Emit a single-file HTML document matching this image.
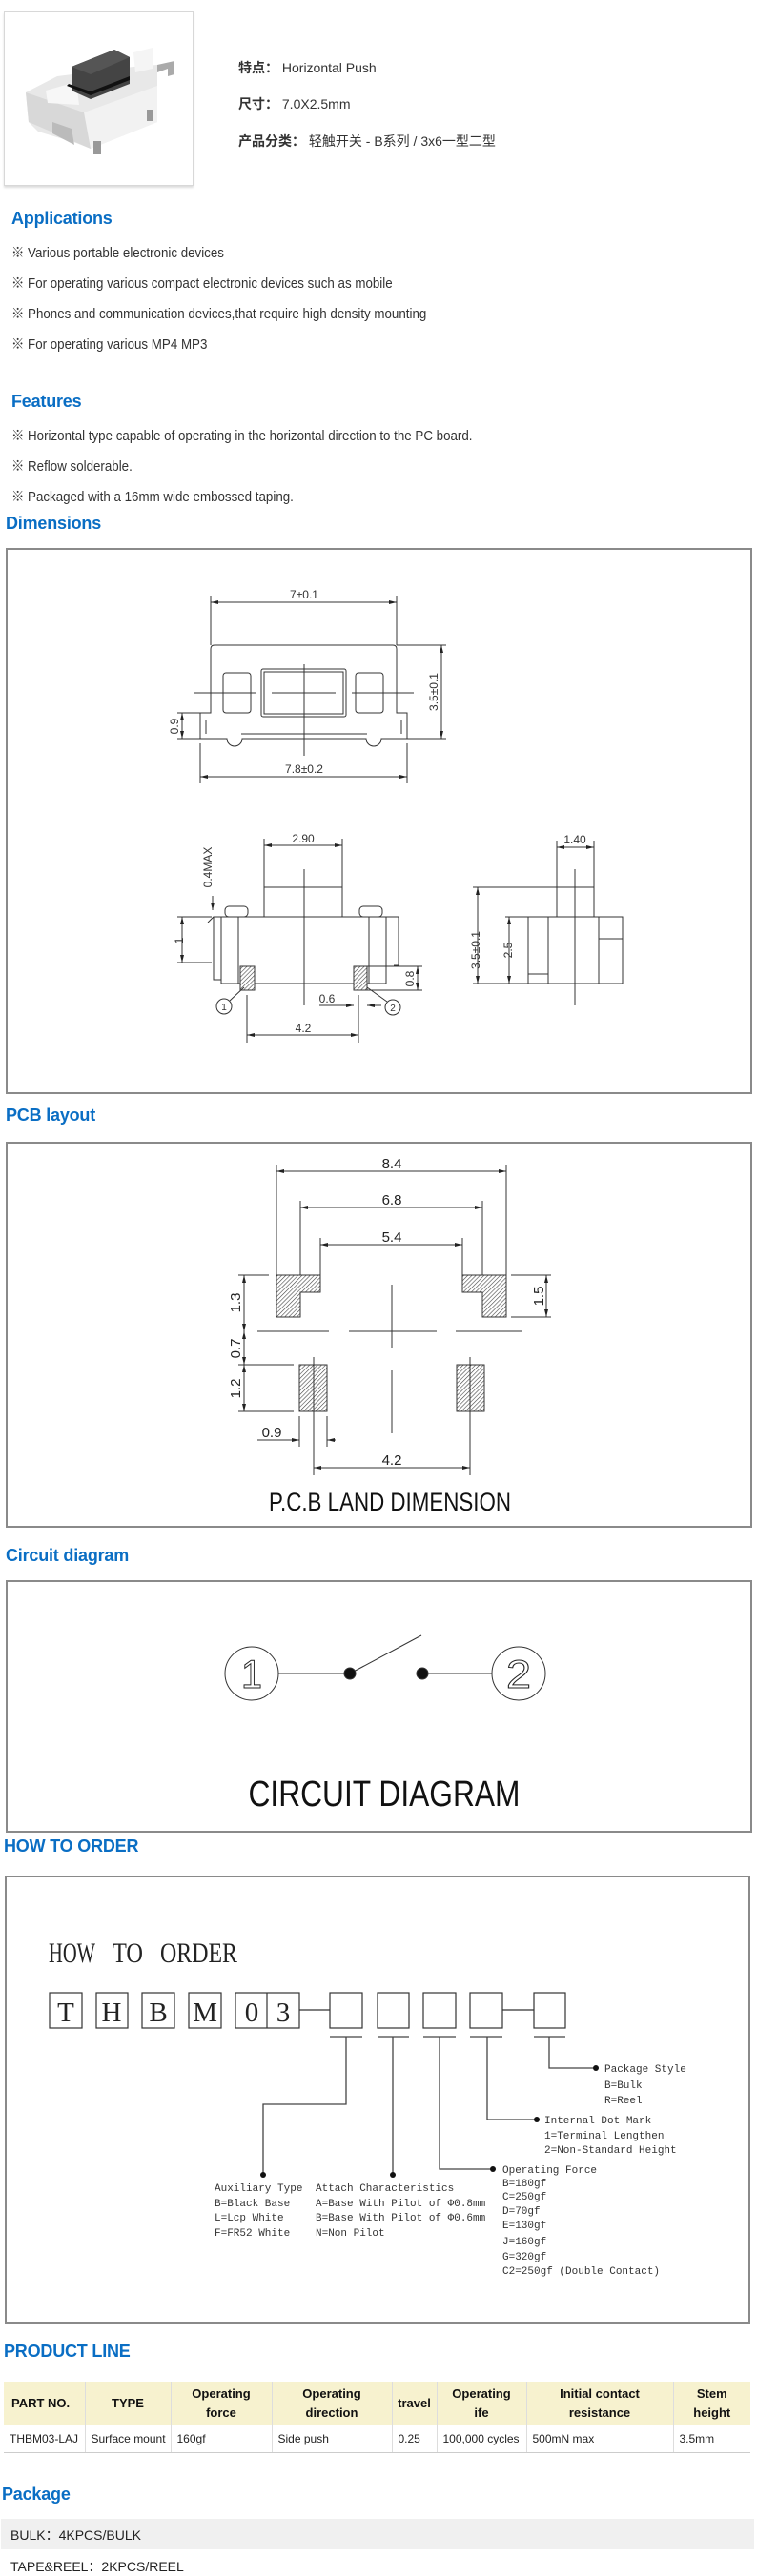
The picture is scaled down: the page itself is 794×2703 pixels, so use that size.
<!DOCTYPE html>
<html><head><meta charset="utf-8">
<style>
*{margin:0;padding:0;box-sizing:border-box}
body{width:794px;height:2703px;position:relative;background:#fff;font-family:"Liberation Sans","Noto Sans CJK SC",sans-serif;color:#333;overflow:hidden}
.a{position:absolute;white-space:nowrap}
.h{position:absolute;color:#0a6ec4;font-weight:bold;font-size:18px;white-space:nowrap;letter-spacing:-0.2px}
.p{position:absolute;font-size:14.5px;color:#333;white-space:nowrap;transform:scaleX(0.92);transform-origin:left center}
.box{position:absolute;left:6px;width:783px;border:2px solid #8a8a8a;background:#fff}
table{position:absolute;left:4px;top:2499px;width:783px;border-collapse:collapse;font-size:12px}
th{background:#f7f2cf;font-size:13px;font-weight:bold;color:#111;height:46px;line-height:20px;border-right:1px solid #ddd}
td{height:28px;padding-left:6px;color:#222;border-right:1px solid #ddd;border-bottom:1px solid #ccc}
th:last-child,td:last-child{border-right:none}
</style></head><body>

<div class="a" style="left:4px;top:12px;width:199px;height:183px;border:1px solid #d8d8d8;box-shadow:0 2px 2px #ddd"></div>
<svg class="a" style="left:4px;top:12px" width="199" height="183" viewBox="4 12 199 183">
<polygon points="27,97 60,80 140,70 165,68 165,128 95,156 80,150 40,138 30,128" fill="#e8e8e8"/>
<polygon points="88,118 165,90 165,128 95,156" fill="#f2f2f2"/>
<polygon points="27,97 88,118 95,156 30,128" fill="#d8d8d8"/>
<polygon points="55,128 75,135 78,152 55,140" fill="#bbb"/>
<polygon points="48,95 80,86 83,110 50,108" fill="#f7f7f7"/>
<polygon points="140,55 160,50 160,72 142,76" fill="#f5f5f5"/>
<polygon points="75,70 120,52 136,60 136,88 95,104 75,95" fill="#444"/>
<polygon points="75,70 120,52 136,60 95,78" fill="#555"/>
<polygon points="70,90 95,100 136,84 136,80 95,96 72,88" fill="#111"/>
<rect x="98" y="148" width="8" height="14" fill="#999"/>
<rect x="154" y="115" width="7" height="12" fill="#999"/>
<polygon points="165,68 183,64 183,78 176,80 176,72 165,76" fill="#aaa"/>
</svg>

<div class="a" style="left:250px;top:61px;font-size:14px;color:#333"><b>特点：</b> Horizontal Push</div>
<div class="a" style="left:250px;top:99px;font-size:14px;color:#333"><b>尺寸：</b> 7.0X2.5mm</div>
<div class="a" style="left:250px;top:138px;font-size:14px;color:#333"><b>产品分类：</b> 轻触开关 - B系列 / 3x6一型二型</div>

<div class="h" style="left:12px;top:219px">Applications</div>
<div class="p" style="left:12px;top:254px">※ Various portable electronic devices</div>
<div class="p" style="left:12px;top:286px">※ For operating various compact electronic devices such as mobile</div>
<div class="p" style="left:12px;top:318px">※ Phones and communication devices,that require high density mounting</div>
<div class="p" style="left:12px;top:350px">※ For operating various MP4 MP3</div>

<div class="h" style="left:12px;top:411px">Features</div>
<div class="p" style="left:12px;top:446px">※ Horizontal type capable of operating in the horizontal direction to the PC board.</div>
<div class="p" style="left:12px;top:478px">※ Reflow solderable.</div>
<div class="p" style="left:12px;top:510px">※ Packaged with a 16mm wide embossed taping.</div>

<div class="h" style="left:6px;top:539px">Dimensions</div>
<div class="box" style="top:575px;height:573px"></div>
<div class="h" style="left:6px;top:1160px">PCB layout</div>
<div class="box" style="top:1198px;height:405px"></div>
<div class="h" style="left:6px;top:1622px">Circuit diagram</div>
<div class="box" style="top:1658px;height:265px"></div>
<div class="h" style="left:4px;top:1927px">HOW TO ORDER</div>
<div class="box" style="left:5px;top:1968px;height:471px;width:782px"></div>

<svg class="a" style="left:0;top:0" width="794" height="2703">
<defs>
<marker id="ar" markerWidth="8" markerHeight="6" refX="8" refY="3" orient="auto-start-reverse" markerUnits="userSpaceOnUse"><path d="M0,1 L8,3 L0,5 Z" fill="#222"/></marker>
<pattern id="ht" width="3" height="3" patternUnits="userSpaceOnUse" patternTransform="rotate(45)"><rect width="3" height="3" fill="#fff"/><line x1="0" y1="0" x2="0" y2="3" stroke="#444" stroke-width="1.2"/></pattern>
</defs>
<g fill="none" stroke="#333" stroke-width="1" font-family="Liberation Sans,sans-serif">
<!-- top view -->
<path d="M221,748 L221,681 Q221,677 225,677 L412,677 Q416,677 416,681 L416,748 L427,748 L427,775 L400,775 A8,8 0 0 1 384,775 L254,775 A8,8 0 0 1 238,775 L210,775 L210,748 Z"/>
<line x1="253" y1="770" x2="385" y2="770"/>
<line x1="216" y1="755" x2="216" y2="770"/><line x1="421" y1="755" x2="421" y2="770"/>
<rect x="234" y="706" width="29" height="42" rx="3"/>
<rect x="274" y="702" width="89" height="50" rx="2"/><rect x="277" y="705" width="83" height="44"/>
<rect x="373" y="706" width="29" height="42" rx="3"/>
<line x1="203" y1="727" x2="268" y2="727"/><line x1="285" y1="727" x2="352" y2="727"/><line x1="369" y1="727" x2="434" y2="727"/>
<line x1="319" y1="697" x2="319" y2="793"/>
<line x1="221" y1="625" x2="221" y2="677"/><line x1="416" y1="625" x2="416" y2="677"/>
<line x1="221" y1="632" x2="416" y2="632" marker-start="url(#ar)" marker-end="url(#ar)"/>
<line x1="210" y1="780" x2="210" y2="822"/><line x1="427" y1="780" x2="427" y2="822"/>
<line x1="210" y1="815" x2="427" y2="815" marker-start="url(#ar)" marker-end="url(#ar)"/>
<line x1="416" y1="677" x2="468" y2="677"/><line x1="427" y1="775" x2="468" y2="775"/>
<line x1="463" y1="677" x2="463" y2="775" marker-start="url(#ar)" marker-end="url(#ar)"/>
<line x1="186" y1="748" x2="210" y2="748"/><line x1="186" y1="775" x2="210" y2="775"/>
<line x1="191" y1="748" x2="191" y2="775" marker-start="url(#ar)" marker-end="url(#ar)"/>
<g fill="#333" stroke="none" font-size="12">
<text x="319" y="628" text-anchor="middle">7±0.1</text>
<text x="319" y="811" text-anchor="middle">7.8±0.2</text>
<text transform="translate(459,726) rotate(-90)" text-anchor="middle">3.5±0.1</text>
<text transform="translate(187,762) rotate(-90)" text-anchor="middle">0.9</text>
</g>
<!-- side view -->
<rect x="277" y="931" width="82" height="31"/>
<rect x="232" y="962" width="173" height="70"/>
<line x1="250" y1="962" x2="250" y2="1032"/><line x1="387" y1="962" x2="387" y2="1032"/>
<rect x="236" y="951" width="24" height="11" rx="4"/><rect x="377" y="951" width="24" height="11" rx="4"/>
<path d="M232,962 L224,962 L224,1028 L232,1028"/><path d="M405,962 L418,962 L418,1013 L413,1013"/>
<path d="M224,962 L218,968"/>
<rect x="252" y="1014" width="15" height="25" fill="url(#ht)"/><rect x="371" y="1014" width="14" height="25" fill="url(#ht)"/>
<line x1="267" y1="1032" x2="300" y2="1032"/><line x1="338" y1="1032" x2="371" y2="1032"/>
<line x1="319" y1="912" x2="319" y2="1055"/>
<line x1="277" y1="880" x2="277" y2="931"/><line x1="359" y1="880" x2="359" y2="931"/>
<line x1="277" y1="887" x2="359" y2="887" marker-start="url(#ar)" marker-end="url(#ar)"/>
<circle cx="235" cy="1056" r="8"/><circle cx="412" cy="1057" r="8"/>
<line x1="241" y1="1050" x2="256" y2="1036"/><line x1="406" y1="1051" x2="385" y2="1036"/>
<line x1="259" y1="1044" x2="259" y2="1094"/><line x1="376" y1="1044" x2="376" y2="1094"/>
<line x1="259" y1="1086" x2="376" y2="1086" marker-start="url(#ar)" marker-end="url(#ar)"/>
<line x1="335" y1="1055" x2="371" y2="1055" marker-end="url(#ar)"/><line x1="400" y1="1055" x2="385" y2="1055" marker-end="url(#ar)"/>
<line x1="385" y1="1014" x2="443" y2="1014"/><line x1="385" y1="1039" x2="443" y2="1039"/>
<line x1="438" y1="1014" x2="438" y2="1039" marker-start="url(#ar)" marker-end="url(#ar)"/>
<line x1="186" y1="962" x2="222" y2="962"/><line x1="186" y1="1010" x2="222" y2="1010"/>
<line x1="191" y1="962" x2="191" y2="1010" marker-start="url(#ar)" marker-end="url(#ar)"/>
<line x1="223" y1="940" x2="223" y2="955" marker-end="url(#ar)"/>
<g fill="#333" stroke="none" font-size="12">
<text x="318" y="884" text-anchor="middle">2.90</text>
<text x="318" y="1083" text-anchor="middle">4.2</text>
<text x="343" y="1052" text-anchor="middle">0.6</text>
<text x="235" y="1060" text-anchor="middle" font-size="10">1</text>
<text x="412" y="1061" text-anchor="middle" font-size="10">2</text>
<text transform="translate(222,910) rotate(-90)" text-anchor="middle">0.4MAX</text>
<text transform="translate(192,987) rotate(-90)" text-anchor="middle">1</text>
<text transform="translate(434,1027) rotate(-90)" text-anchor="middle">0.8</text>
<text transform="translate(503,997) rotate(-90)" text-anchor="middle">3.5±0.1</text>
<text transform="translate(537,997) rotate(-90)" text-anchor="middle">2.5</text>
<text x="603" y="885" text-anchor="middle">1.40</text>
</g>
<!-- right view -->
<rect x="584" y="931" width="39" height="31"/>
<rect x="554" y="962" width="99" height="70"/>
<line x1="575" y1="962" x2="575" y2="1032"/><line x1="628" y1="962" x2="628" y2="1032"/>
<line x1="628" y1="985" x2="653" y2="985"/><line x1="554" y1="1022" x2="575" y2="1022"/>
<line x1="603" y1="912" x2="603" y2="1055"/>
<line x1="584" y1="882" x2="584" y2="931"/><line x1="623" y1="882" x2="623" y2="931"/>
<line x1="584" y1="889" x2="623" y2="889" marker-start="url(#ar)" marker-end="url(#ar)"/>
<line x1="496" y1="931" x2="584" y2="931"/><line x1="496" y1="1032" x2="554" y2="1032"/>
<line x1="530" y1="962" x2="554" y2="962"/>
<line x1="501" y1="931" x2="501" y2="1032" marker-start="url(#ar)" marker-end="url(#ar)"/>
<line x1="534" y1="962" x2="534" y2="1032" marker-start="url(#ar)" marker-end="url(#ar)"/>

<!-- PCB -->
<line x1="290" y1="1222" x2="290" y2="1338"/><line x1="531" y1="1222" x2="531" y2="1338"/>
<line x1="290" y1="1229" x2="531" y2="1229" marker-start="url(#ar)" marker-end="url(#ar)"/>
<line x1="315" y1="1260" x2="315" y2="1355"/><line x1="506" y1="1260" x2="506" y2="1355"/>
<line x1="315" y1="1267" x2="506" y2="1267" marker-start="url(#ar)" marker-end="url(#ar)"/>
<line x1="336" y1="1299" x2="336" y2="1338"/><line x1="485" y1="1299" x2="485" y2="1338"/>
<line x1="336" y1="1306" x2="485" y2="1306" marker-start="url(#ar)" marker-end="url(#ar)"/>
<path d="M290,1338 L336,1338 L336,1356 L315,1356 L315,1382 L290,1382 Z" fill="url(#ht)"/>
<path d="M531,1338 L485,1338 L485,1356 L506,1356 L506,1382 L531,1382 Z" fill="url(#ht)"/>
<rect x="314" y="1432" width="29" height="49" fill="url(#ht)"/>
<rect x="479" y="1432" width="29" height="49" fill="url(#ht)"/>
<line x1="329" y1="1424" x2="329" y2="1548"/><line x1="493" y1="1424" x2="493" y2="1548"/>
<line x1="270" y1="1397" x2="345" y2="1397"/><line x1="366" y1="1397" x2="458" y2="1397"/><line x1="478" y1="1397" x2="548" y2="1397"/>
<line x1="411" y1="1348" x2="411" y2="1414"/><line x1="411" y1="1438" x2="411" y2="1504"/>
<line x1="329" y1="1540" x2="493" y2="1540" marker-start="url(#ar)" marker-end="url(#ar)"/>
<line x1="343" y1="1486" x2="343" y2="1518"/><line x1="314" y1="1486" x2="314" y2="1518"/>
<line x1="270" y1="1511" x2="314" y2="1511" marker-end="url(#ar)"/><line x1="352" y1="1511" x2="343" y2="1511" marker-end="url(#ar)"/>
<line x1="250" y1="1338" x2="282" y2="1338"/><line x1="250" y1="1432" x2="308" y2="1432"/><line x1="250" y1="1481" x2="308" y2="1481"/>
<line x1="256" y1="1338" x2="256" y2="1397" marker-start="url(#ar)" marker-end="url(#ar)"/>
<line x1="256" y1="1397" x2="256" y2="1432" marker-start="url(#ar)" marker-end="url(#ar)"/>
<line x1="256" y1="1432" x2="256" y2="1481" marker-start="url(#ar)" marker-end="url(#ar)"/>
<line x1="536" y1="1338" x2="578" y2="1338"/><line x1="536" y1="1382" x2="578" y2="1382"/>
<line x1="573" y1="1338" x2="573" y2="1382" marker-start="url(#ar)" marker-end="url(#ar)"/>
<g fill="#222" stroke="none" font-size="15">
<text x="411" y="1226" text-anchor="middle">8.4</text>
<text x="411" y="1264" text-anchor="middle">6.8</text>
<text x="411" y="1303" text-anchor="middle">5.4</text>
<text x="411" y="1537" text-anchor="middle">4.2</text>
<text x="285" y="1508" text-anchor="middle">0.9</text>
<text transform="translate(252,1367) rotate(-90)" text-anchor="middle">1.3</text>
<text transform="translate(252,1415) rotate(-90)" text-anchor="middle">0.7</text>
<text transform="translate(252,1457) rotate(-90)" text-anchor="middle">1.2</text>
<text transform="translate(570,1360) rotate(-90)" text-anchor="middle">1.5</text>
<text x="409" y="1585" text-anchor="middle" font-size="27" textLength="254" lengthAdjust="spacingAndGlyphs" fill="#111">P.C.B LAND DIMENSION</text>
</g>

<!-- circuit -->
<circle cx="264" cy="1756" r="28"/><circle cx="544" cy="1756" r="28"/>
<line x1="292" y1="1756" x2="367" y2="1756"/><line x1="443" y1="1756" x2="516" y2="1756"/>
<line x1="367" y1="1756" x2="442" y2="1716"/>
<circle cx="367" cy="1756" r="6" fill="#111"/><circle cx="443" cy="1756" r="6" fill="#111"/>
<g fill="#222" stroke="none">
<text x="264" y="1771" text-anchor="middle" font-size="42" textLength="22" lengthAdjust="spacingAndGlyphs" fill="none" stroke="#222" stroke-width="1">1</text>
<text x="544" y="1771" text-anchor="middle" font-size="42" textLength="26" lengthAdjust="spacingAndGlyphs" fill="none" stroke="#222" stroke-width="1">2</text>
<text x="403" y="1895" text-anchor="middle" font-size="38" textLength="285" lengthAdjust="spacingAndGlyphs" fill="#111">CIRCUIT DIAGRAM</text>
</g>

<!-- how to order -->
<g stroke="#333" stroke-width="1.2">
<rect x="52" y="2091" width="34" height="37"/><rect x="101" y="2091" width="33" height="37"/>
<rect x="149" y="2091" width="34" height="37"/><rect x="198" y="2091" width="34" height="37"/>
<rect x="247" y="2091" width="67" height="37"/><line x1="280" y1="2091" x2="280" y2="2128"/>
<line x1="314" y1="2109" x2="346" y2="2109"/>
<rect x="346" y="2091" width="34" height="37"/><rect x="396" y="2091" width="33" height="37"/>
<rect x="444" y="2091" width="34" height="37"/><rect x="493" y="2091" width="34" height="37"/>
<line x1="527" y1="2109" x2="560" y2="2109"/><rect x="560" y="2091" width="33" height="37"/>
</g>
<g stroke="#444" stroke-width="1.3">
<line x1="346" y1="2137" x2="380" y2="2137"/><line x1="396" y1="2137" x2="429" y2="2137"/>
<line x1="444" y1="2137" x2="478" y2="2137"/><line x1="493" y1="2137" x2="527" y2="2137"/>
<line x1="560" y1="2137" x2="593" y2="2137"/>
<polyline points="363,2137 363,2208 276,2208 276,2282"/>
<line x1="412" y1="2137" x2="412" y2="2282"/>
<polyline points="461,2137 461,2276 517,2276"/>
<polyline points="511,2137 511,2224 563,2224"/>
<polyline points="576,2137 576,2170 625,2170"/>
</g>
<g fill="#111" stroke="none">
<circle cx="276" cy="2282" r="3"/><circle cx="412" cy="2282" r="3"/><circle cx="517" cy="2276" r="3"/>
<circle cx="563" cy="2224" r="3"/><circle cx="625" cy="2170" r="3"/>
</g>
<g fill="#222" stroke="none" font-family="Liberation Serif,serif">
<text x="51" y="2059" font-size="30" textLength="49" lengthAdjust="spacingAndGlyphs">HOW</text>
<text x="118" y="2059" font-size="30" textLength="32" lengthAdjust="spacingAndGlyphs">TO</text>
<text x="168" y="2059" font-size="30" textLength="81" lengthAdjust="spacingAndGlyphs">ORDER</text>
<g font-size="29" text-anchor="middle">
<text x="69" y="2121">T</text><text x="117" y="2121">H</text><text x="166" y="2121">B</text>
<text x="215" y="2121">M</text><text x="264" y="2121">0</text><text x="297" y="2121">3</text>
</g>
</g>
<g fill="#333" stroke="none" font-family="Liberation Mono,monospace" font-size="11">
<text x="634" y="2174">Package Style</text><text x="634" y="2191">B=Bulk</text><text x="634" y="2207">R=Reel</text>
<text x="571" y="2228">Internal Dot Mark</text><text x="571" y="2244">1=Terminal Lengthen</text><text x="571" y="2259">2=Non-Standard Height</text>
<text x="527" y="2280">Operating Force</text><text x="527" y="2294">B=180gf</text><text x="527" y="2308">C=250gf</text><text x="527" y="2323">D=70gf</text><text x="527" y="2338">E=130gf</text><text x="527" y="2355">J=160gf</text><text x="527" y="2371">G=320gf</text><text x="527" y="2386">C2=250gf (Double Contact)</text>
<text x="225" y="2299">Auxiliary Type</text><text x="225" y="2315">B=Black Base</text><text x="225" y="2330">L=Lcp White</text><text x="225" y="2346">F=FR52 White</text>
<text x="331" y="2299">Attach Characteristics</text><text x="331" y="2315">A=Base With Pilot of Φ0.8mm</text><text x="331" y="2330">B=Base With Pilot of Φ0.6mm</text><text x="331" y="2346">N=Non Pilot</text>
</g>
</g>
</svg>

<div class="h" style="left:4px;top:2457px">PRODUCT LINE</div>
<table>
<tr><th style="width:85px;text-align:left;padding-left:8px">PART NO.</th><th style="width:90px">TYPE</th><th style="width:106px">Operating<br>force</th><th style="width:126px">Operating<br>direction</th><th style="width:47px">travel</th><th style="width:94px">Operating<br>ife</th><th style="width:154px">Initial contact<br>resistance</th><th>Stem<br>height</th></tr>
<tr><td>THBM03-LAJ</td><td>Surface mount</td><td>160gf</td><td>Side push</td><td>0.25</td><td>100,000 cycles</td><td>500mN max</td><td>3.5mm</td></tr>
</table>

<div class="h" style="left:2px;top:2607px">Package</div>
<div class="a" style="left:1px;top:2643px;width:790px;height:32px;background:#f0f0f0"></div>
<div class="a" style="left:11px;top:2650px;font-size:14px;color:#222">BULK：4KPCS/BULK</div>
<div class="a" style="left:11px;top:2683px;font-size:14px;color:#222">TAPE&amp;REEL：2KPCS/REEL</div>
</body></html>
